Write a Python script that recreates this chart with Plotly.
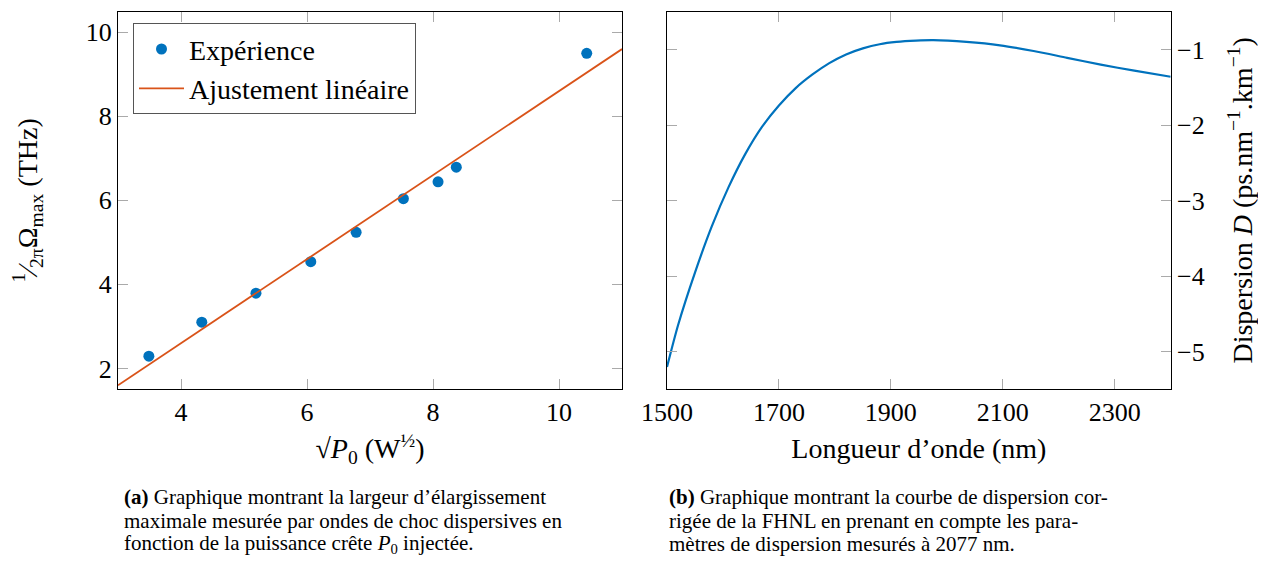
import plotly.graph_objects as go

# (a) mesures et ajustement
racine_p0 = [3.49, 4.33, 5.19, 6.06, 6.78, 7.53, 8.08, 8.37, 10.44]
omega_max = [2.29, 3.10, 3.79, 4.54, 5.24, 6.04, 6.44, 6.79, 9.50]
fit_x = [3, 11]
fit_y = [1.6, 9.6]

# (b) courbe de dispersion
longueur_onde = [1500, 1520, 1550, 1580, 1610, 1640, 1670, 1700, 1730, 1760, 1790,
                 1820, 1850, 1880, 1910, 1945, 1976, 2035, 2095, 2155, 2215, 2275,
                 2335, 2400]
dispersion = [-5.20, -4.64, -3.95, -3.34, -2.82, -2.38, -2.02, -1.74, -1.51, -1.33,
              -1.18, -1.065, -0.985, -0.93, -0.90, -0.883, -0.877, -0.90, -0.945,
              -1.02, -1.11, -1.20, -1.28, -1.36]

# la page a une marge de 8 px autour de la figure
OFF = 8
W, H = 1266 - 2 * OFF, 565 - 2 * OFF
def px(x):
    return (x - OFF) / W
def py(y):
    return 1 - (y - OFF) / H

FONT = "Liberation Serif"
BLUE = "#0072BD"
ORANGE = "#D95319"

fig = go.Figure()
fig.add_trace(go.Scatter(x=racine_p0, y=omega_max, mode="markers", name="Expérience",
                         marker=dict(color=BLUE, size=11), xaxis="x", yaxis="y"))
fig.add_trace(go.Scatter(x=fit_x, y=fit_y, mode="lines", name="Ajustement linéaire",
                         line=dict(color=ORANGE, width=1.8), xaxis="x", yaxis="y"))
fig.add_trace(go.Scatter(x=longueur_onde, y=dispersion, mode="lines", showlegend=False,
                         line=dict(color=BLUE, width=2.2, shape="spline", smoothing=0.8),
                         xaxis="x2", yaxis="y2"))

ax = dict(showline=True, linecolor="black", linewidth=1.2, mirror="ticks",
          ticks="inside", ticklen=10, tickwidth=1.4, tickcolor="#aaaaaa",
          showgrid=False, zeroline=False, automargin=False,
          tickfont=dict(family=FONT, size=26, color="black"))
ttl = dict(family=FONT, size=28, color="black")

ydom = [py(389), py(11.7)]
fig.update_layout(
    width=W, height=H, margin=dict(l=0, r=0, t=0, b=0),
    paper_bgcolor="white", plot_bgcolor="white",
    font=dict(family=FONT, color="black"),
    xaxis=dict(ax, domain=[px(118), px(622)], range=[3, 11], tickvals=[4, 6, 8, 10],
               title=dict(text="√<i>P</i><sub>0</sub> (W<sup>½</sup>)", font=ttl, standoff=12)),
    yaxis=dict(ax, domain=ydom, range=[1.51, 10.49], tickvals=[2, 4, 6, 8, 10],
               title=dict(text="<sup>1</sup>⁄<sub>2π</sub>Ω<sub>max</sub> (THz)", font=ttl, standoff=48)),
    xaxis2=dict(ax, domain=[px(667), px(1170.7)], range=[1500, 2400],
                tickvals=[1500, 1700, 1900, 2100, 2300], anchor="y2",
                title=dict(text="Longueur d’onde (nm)", font=ttl, standoff=12)),
    yaxis2=dict(ax, domain=ydom, range=[-5.49, -0.50], tickvals=[-5, -4, -3, -2, -1],
                side="right", anchor="x2",
                title=dict(text="Dispersion <i>D</i> (ps.nm<sup>−1</sup>.km<sup>−1</sup>)",
                           font=ttl, standoff=30)),
    legend=dict(x=px(133), y=py(23.3), xanchor="left", yanchor="top",
                bordercolor="#555555", borderwidth=1, bgcolor="white", itemwidth=45,
                font=dict(family=FONT, size=28, color="black")),
    showlegend=True,
)

lignes_a = ["<b>(a)</b> Graphique montrant la largeur d’élargissement",
            "maximale mesurée par ondes de choc dispersives en",
            "fonction de la puissance crête <i>P</i><sub>0</sub> injectée."]
lignes_b = ["<b>(b)</b> Graphique montrant la courbe de dispersion cor-",
            "rigée de la FHNL en prenant en compte les para-",
            "mètres de dispersion mesurés à 2077 nm."]
for lignes, x0 in [(lignes_a, 122), (lignes_b, 667)]:
    for i, txt in enumerate(lignes):
        fig.add_annotation(text=txt, xref="paper", yref="paper", x=px(x0),
                           y=py(497 + 23.5 * i), xanchor="left", yanchor="middle",
                           align="left", showarrow=False,
                           font=dict(family=FONT, size=21, color="black"))

fig.write_html("out.html")
